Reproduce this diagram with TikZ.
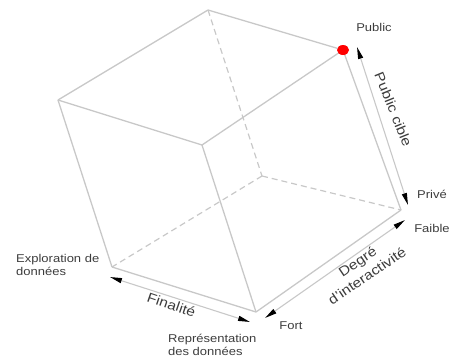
\documentclass[tikz,border=0pt]{standalone}
\usepackage{fontspec}
\setmainfont{Liberation Sans}
\usetikzlibrary{arrows.meta,shapes.geometric}
\definecolor{edgegray}{RGB}{200,200,200}
\definecolor{txtgray}{RGB}{60,60,60}
\newcommand{\wtext}[1]{\scalebox{1.15}[1]{\begin{tabular}{@{}l@{}}#1\end{tabular}}}
\newcommand{\wctext}[1]{\scalebox{1.15}[1]{\begin{tabular}{@{}c@{}}#1\end{tabular}}}
\tikzset{
  cubeedge/.style={draw=edgegray, line width=1.3pt},
  hiddenedge/.style={draw=edgegray, line width=1.2pt, dash pattern=on 6pt off 4pt},
  axisarrow/.style={draw=edgegray, line width=1.1pt,
    {Triangle[length=12pt,width=5pt,color=black]}-{Triangle[length=12pt,width=5pt,color=black]}},
  lbl/.style={text=txtgray, font=\fontsize{11.3}{13}\selectfont, inner sep=0pt},
  rlbl/.style={text=txtgray, font=\fontsize{13.5}{17}\selectfont, inner sep=0pt},
}
\begin{document}
\begin{tikzpicture}[x=1pt,y=-1pt]
\useasboundingbox (0,0) rectangle (458,360);
% cube vertices
\coordinate (T) at (208,10);
\coordinate (L) at (58,100);
\coordinate (F) at (202,145);
\coordinate (R) at (343,50);
\coordinate (BL) at (112,267);
\coordinate (BF) at (256,312);
\coordinate (BR) at (401,210);
\coordinate (H) at (262,176);
% hidden edges
\draw[hiddenedge] (T) -- (H);
\draw[hiddenedge] (H) -- (BL);
\draw[hiddenedge] (H) -- (BR);
% visible edges
\draw[cubeedge] (T) -- (L);
\draw[cubeedge] (T) -- (R);
\draw[cubeedge] (L) -- (F);
\draw[cubeedge] (F) -- (R);
\draw[cubeedge] (L) -- (BL);
\draw[cubeedge] (F) -- (BF);
\draw[cubeedge] (R) -- (BR);
\draw[cubeedge] (BL) -- (BF);
\draw[cubeedge] (BF) -- (BR);
% red dot
\node[ellipse, fill=red, minimum width=12pt, minimum height=10pt, inner sep=0pt] (dot) at (R) {};
% axis arrows
\coordinate (pcA) at (357,47);
\coordinate (pcB) at (408,205);
\coordinate (diA) at (405,220);
\coordinate (diB) at (265,318);
\coordinate (fiA) at (110,277);
\coordinate (fiB) at (250,322);
\draw[axisarrow] (pcA) -- (pcB);
\draw[axisarrow] (diA) -- (diB);
\draw[axisarrow] (fiA) -- (fiB);
% labels
\node[lbl] (public) at (374,29) {\wtext{Public}};
\node[lbl] (prive) at (432,196) {\wtext{Privé}};
\node[lbl] (faible) at (432,230) {\wtext{Faible}};
\node[lbl] (fort) at (291,327) {\wtext{Fort}};
\node[lbl, anchor=west] (explo) at (16,266) {\wtext{Exploration de\\données}};
\node[lbl, anchor=west] (repr) at (168,346) {\wtext{Représentation\\des données}};
\node[rlbl, rotate=-68] (pcible) at (392,110) {\wctext{Public cible}};
\node[rlbl, rotate=34] (degre) at (363,270) {\wctext{Degré\\d'interactivité}};
\node[rlbl, rotate=-19] (finalite) at (171,306) {\wctext{Finalité}};
\end{tikzpicture}
\end{document}
